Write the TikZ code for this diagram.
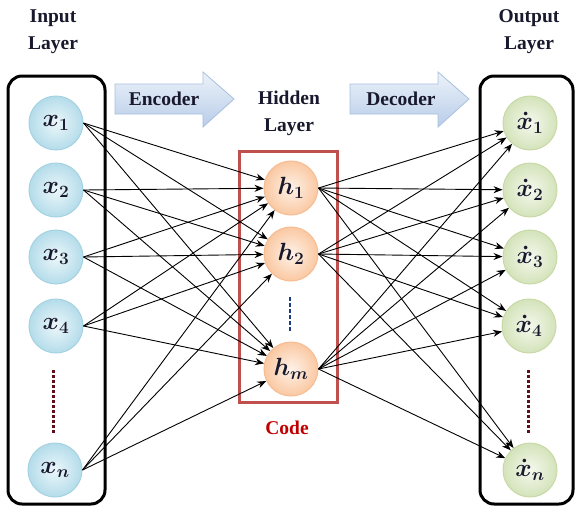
\documentclass[tikz,border=0pt]{standalone}
\usepackage{fontspec}
\setmainfont{Liberation Serif}
\usetikzlibrary{arrows.meta}
\definecolor{inbord}{RGB}{165,210,225}
\definecolor{inouter}{RGB}{180,220,234}
\definecolor{ininner}{RGB}{236,247,250}
\definecolor{hidbord}{RGB}{246,188,146}
\definecolor{hidouter}{RGB}{250,200,162}
\definecolor{hidinner}{RGB}{254,242,232}
\definecolor{outbord}{RGB}{200,216,166}
\definecolor{outouter}{RGB}{212,227,186}
\definecolor{outinner}{RGB}{245,248,238}
\definecolor{codered}{RGB}{192,80,77}
\definecolor{codetext}{RGB}{192,0,0}
\definecolor{arrtop}{RGB}{236,242,250}
\definecolor{arrbot}{RGB}{184,205,232}
\definecolor{arrbord}{RGB}{168,192,222}
\definecolor{textdark}{RGB}{25,25,45}
\definecolor{dotred}{RGB}{95,15,25}
\definecolor{dotblue}{RGB}{30,60,130}
\begin{document}
\begin{tikzpicture}[x=1pt,y=-1pt,
  neuron/.style={circle,minimum size=54pt,inner sep=0pt,line width=1pt,
    font=\fontsize{23}{26}\selectfont\boldmath,text=textdark},
  innode/.style={neuron,draw=inbord,inner color=ininner,outer color=inouter},
  hidnode/.style={neuron,draw=hidbord,inner color=hidinner,outer color=hidouter},
  outnode/.style={neuron,draw=outbord,inner color=outinner,outer color=outouter},
  lbl/.style={font=\fontsize{19.5}{27}\selectfont\bfseries,align=center,text=textdark},
  conn/.style={-{Stealth[length=9pt,width=7pt]},line width=0.9pt},
  layerbox/.style={line width=3pt,rounded corners=14pt},
  bigarrow/.style={draw=arrbord,line width=0.8pt,top color=arrtop,bottom color=arrbot},
  dotline/.style={line width=3pt,dash pattern=on 3pt off 2pt,color=dotred},
]
\useasboundingbox (0,0) rectangle (576,512);

% layer boxes
\draw[layerbox] (8,76) rectangle (105,504);
\draw[layerbox] (480,76) rectangle (573,504);
\draw[codered,line width=3pt] (239,151) rectangle (337,402);

% encoder / decoder arrows
\draw[bigarrow] (115,84) -- (203,84) -- (203,72) -- (234,99) -- (203,127) -- (203,114) -- (115,114) -- cycle;
\draw[bigarrow] (350,84) -- (438,84) -- (438,72) -- (469,99) -- (438,127) -- (438,114) -- (350,114) -- cycle;
\node[lbl] (enc) at (164,99) {Encoder};
\node[lbl] (dec) at (401,99) {Decoder};

% labels
\node[lbl] (inlbl) at (53,32) {Input\\Layer};
\node[lbl] (hidlbl) at (289,113) {Hidden\\Layer};
\node[lbl] (outlbl) at (529,32) {Output\\Layer};
\node[lbl,text=codetext] (code) at (287,428) {Code};

% input nodes
\node[innode] (x1) at (56,123) {$x_1$};
\node[innode] (x2) at (56,190) {$x_2$};
\node[innode] (x3) at (56,257) {$x_3$};
\node[innode] (x4) at (56,326) {$x_4$};
\node[innode] (xn) at (55,470) {$x_n$};

% hidden nodes
\node[hidnode] (h1) at (291,188) {$h_1$};
\node[hidnode] (h2) at (291,254) {$h_2$};
\node[hidnode] (hm) at (291,369) {$h_m$};

% output nodes
\node[outnode] (y1) at (530,123) {$\dot{x}_1$};
\node[outnode] (y2) at (530,190) {$\dot{x}_2$};
\node[outnode] (y3) at (530,257) {$\dot{x}_3$};
\node[outnode] (y4) at (529,326) {$\dot{x}_4$};
\node[outnode] (yn) at (530,470) {$\dot{x}_n$};

% dotted continuation marks
\draw[dotline] (53,370) -- (53,433);
\draw[dotline] (528,370) -- (528,433);
\draw[line width=2.5pt,dash pattern=on 4pt off 2pt,color=dotblue] (290,297) -- (290,332);

% connections
\foreach \i in {1,2,3,4,n}
  \foreach \j in {1,2,m}
    \draw[conn] (x\i.east) -- (h\j);
\foreach \j in {1,2,m}
  \foreach \k in {1,2,3,4,n}
    \draw[conn] (h\j.east) -- (y\k);
\end{tikzpicture}
\end{document}
